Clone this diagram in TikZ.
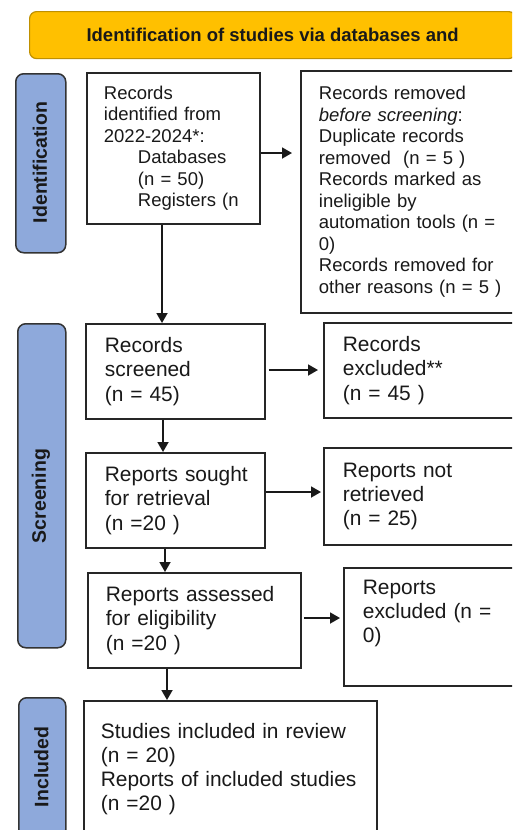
\documentclass[tikz,border=0pt]{standalone}
\usepackage{fontspec}
\setmainfont{Liberation Sans}
\usetikzlibrary{arrows.meta}
\definecolor{sideblue}{HTML}{8EA9DB}
\definecolor{headfill}{HTML}{FFC000}
\definecolor{headline}{HTML}{BF9000}
\begin{document}
\begin{tikzpicture}[x=1pt,y=-1pt,
  box/.style={draw=black!85, line width=1.8pt, anchor=north west, align=left, inner ysep=0pt, text=black!90},
  sml/.style={font=\fontsize{18.5}{21.5}\selectfont},
  big/.style={font=\fontsize{20.9}{24.2}\selectfont},
  sidebox/.style={draw=black!80, line width=1.5pt, fill=sideblue, rounded corners=8pt, anchor=north west, inner sep=0pt},
  sidetext/.style={font=\bfseries\fontsize{19.5}{22}\selectfont, rotate=90, text=black!90},
  arr/.style={line width=1.8pt, draw=black!90, -{Triangle[length=10pt,width=11pt]}}
]
\useasboundingbox (0,0) rectangle (512,830);
\clip (0,0) rectangle (512,830);
\fill[white] (0,0) rectangle (512,830);

% header
\node[draw=headline, line width=1.2pt, fill=headfill, rounded corners=7pt, anchor=north west,
      minimum width=486pt, minimum height=47pt, inner sep=0pt,
      font=\bfseries\fontsize{18.5}{21}\selectfont, text=black!90] (head) at (29,11)
      {Identification of studies via databases and};

% side labels
\node[sidebox, minimum width=50pt, minimum height=179pt] (sideid) at (15,73) {};
\node[sidetext] (sideidt) at (40,162.5) {Identification};
\node[sidebox, minimum width=48pt, minimum height=324pt] (sidescr) at (17,323) {};
\node[sidetext] (sidescrt) at (41,496) {Screening};
\node[sidebox, minimum width=47pt, minimum height=140pt] (sideinc) at (18,697) {};
\node[sidetext] (sideinct) at (41.5,767) {Included};

% boxes
\node[box, sml, inner xsep=17pt, text width=139pt, minimum height=151pt] (b1) at (86,72)
  {Records\\identified from\\2022-2024*:\\\hspace*{34pt}Databases\\\hspace*{34pt}(n = 50)\\\hspace*{34pt}\mbox{Registers (n}};

\node[box, sml, inner xsep=18pt, text width=194pt, minimum height=242pt] (b2) at (300,70)
  {Records removed\\\textit{before screening}:\\Duplicate records\\removed\ \ (n = 5 )\\Records marked as\\ineligible by\\\mbox{automation tools (n =}\\0)\\Records removed for\\\mbox{other reasons (n = 5 )}};

\node[box, big, inner xsep=19pt, text width=141pt, minimum height=95pt] (b3) at (85,323)
  {Records\\screened\\(n = 45)};
\node[box, big, inner xsep=19pt, text width=169pt, minimum height=95pt] (b4) at (323,322)
  {Records\\excluded**\\(n = 45 )};

\node[box, big, inner xsep=19pt, text width=141pt, minimum height=95pt] (b5) at (85,452)
  {\mbox{Reports sought}\\for retrieval\\(n =20 )};
\node[box, big, inner xsep=19pt, text width=169pt, minimum height=97pt] (b6) at (323,447)
  {Reports not\\retrieved\\(n = 25)};

\node[box, big, inner xsep=18pt, text width=177pt, minimum height=95pt] (b7) at (87,572)
  {\mbox{Reports assessed}\\for eligibility\\(n =20 )};
\node[box, big, inner xsep=19pt, text width=149pt, minimum height=118pt] (b8) at (343,567)
  {Reports\\\mbox{excluded (n =}\\0)\\\strut};

\node[box, big, inner xsep=17pt, text width=259pt, minimum height=136pt] (b9) at (83,700)
  {\mbox{Studies included in review}\\(n = 20)\\\mbox{Reports of included studies}\\(n =20 )};

% arrows
\draw[arr, shorten >=8pt] (b1.east |- 0,153) -- (b2.west |- 0,153);
\draw[arr, shorten <=3pt, shorten >=5pt] (b3.east |- 0,370) -- (b4.west |- 0,370);
\draw[arr, shorten >=2pt] (b5.east |- 0,492) -- (b6.west |- 0,492);
\draw[arr, shorten <=2pt, shorten >=3pt] (b7.east |- 0,618) -- (b8.west |- 0,618);

\draw[arr] (162,0 |- b1.south) -- (162,0 |- b3.north);
\draw[arr] (163,0 |- b3.south) -- (163,0 |- b5.north);
\draw[arr] (165,0 |- b5.south) -- (165,0 |- b7.north);
\draw[arr] (167,0 |- b7.south) -- (167,0 |- b9.north);
\end{tikzpicture}
\end{document}
